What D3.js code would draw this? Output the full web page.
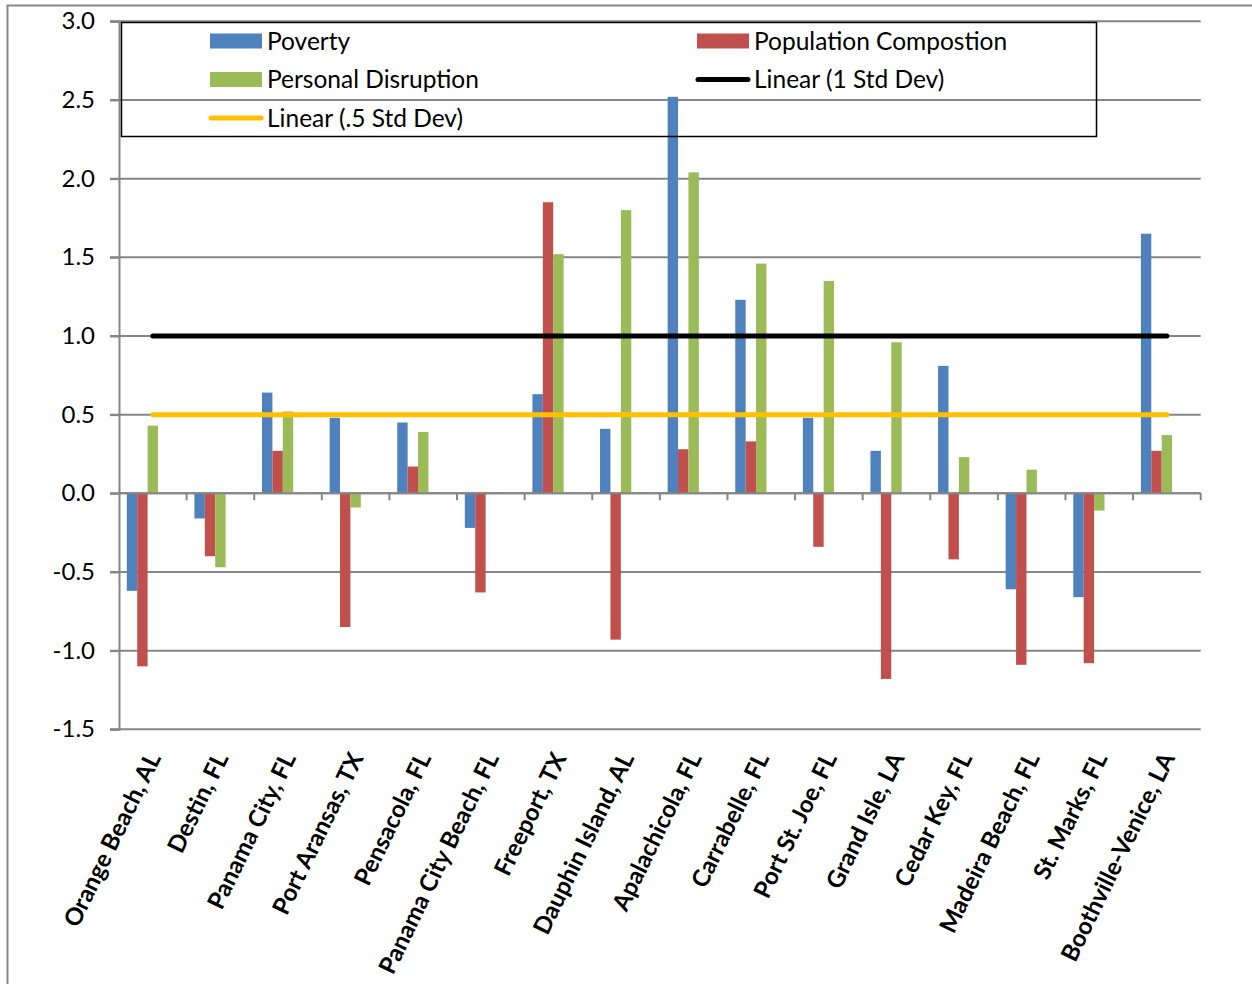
<!DOCTYPE html>
<html>
<head>
<meta charset="utf-8">
<script src="https://cdn.jsdelivr.net/npm/d3@7"></script>
<style>
  body { margin: 0; background: #fff; }
  svg { display: block; }
  text { font-family: Lato, "Open Sans", sans-serif; fill: #000; }
</style>
</head>
<body>
<div class="chart"></div>
<script>
// categories along the x axis
const places = ["Orange Beach, AL", "Destin, FL", "Panama City, FL", "Port Aransas, TX",
  "Pensacola, FL", "Panama City Beach, FL", "Freeport, TX", "Dauphin Island, AL",
  "Apalachicola, FL", "Carrabelle, FL", "Port St. Joe, FL", "Grand Isle, LA",
  "Cedar Key, FL", "Madeira Beach, FL", "St. Marks, FL", "Boothville-Venice, LA"];

// bar series
const poverty = [-0.62, -0.16, 0.64, 0.48, 0.45, -0.22, 0.63, 0.41, 2.52, 1.23, 0.48, 0.27, 0.81, -0.61, -0.66, 1.65];
const popComp = [-1.10, -0.40, 0.27, -0.85, 0.17, -0.63, 1.85, -0.93, 0.28, 0.33, -0.34, -1.18, -0.42, -1.09, -1.08, 0.27];
const disruption = [0.43, -0.47, 0.52, -0.09, 0.39, null, 1.52, 1.80, 2.04, 1.46, 1.35, 0.96, 0.23, 0.15, -0.11, 0.37];

// the two std dev series are only shown as their linear trend lines
const stdDev1 = 1.0;
const stdDevHalf = 0.5;

const yTicks = [-1.5, -1.0, -0.5, 0.0, 0.5, 1.0, 1.5, 2.0, 2.5, 3.0];

const seriesNames = ["Poverty", "Population Compostion", "Personal Disruption", "1 Std Dev", ".5 Std Dev"];
const seriesColors = ["#4F81BD", "#C0504D", "#9BBB59", "#000000", "#FFC000"];

const W = 1252, H = 984;
const svg = d3.select(".chart").append("svg")
    .attr("width", W)
    .attr("height", H);

// chart border
svg.append("rect")
    .attr("x", 7.5).attr("y", 5.5)
    .attr("width", 1300).attr("height", 1100)
    .attr("fill", "none")
    .attr("stroke", "#868686")
    .attr("stroke-width", 2);

const x0 = d3.scaleBand().domain(places).range([119, 1200.7]);
const x1 = d3.scaleBand().domain(seriesNames).range([0, x0.bandwidth()]).paddingOuter(0.75);
const y = d3.scaleLinear().domain([-1.5, 3.0]).range([729.3, 21.3]);

// gridlines
svg.append("g")
    .selectAll("line")
    .data(yTicks)
    .enter()
    .append("line")
    .attr("x1", 110).attr("x2", 1200.7)
    .attr("y1", d => y(d)).attr("y2", d => y(d))
    .attr("stroke", "#868686")
    .attr("stroke-width", 2);

// y axis
const fmt = d => d3.format(".1f")(d).replace("\u2212", "-");
const yAxis = svg.append("g")
    .attr("transform", "translate(119,0)")
    .call(d3.axisLeft(y).tickValues(yTicks).tickFormat(fmt).tickSize(9).tickPadding(15));
yAxis.select(".domain").attr("stroke", "#868686").attr("stroke-width", 2);
yAxis.selectAll(".tick line").attr("stroke", "#868686").attr("stroke-width", 2);
yAxis.selectAll("text")
    .style("font-family", "Lato, 'Open Sans', sans-serif")
    .style("font-size", "24px")
    .attr("fill", "#000");

// bars
const barSeries = [poverty, popComp, disruption];
barSeries.forEach((vals, si) => {
    svg.append("g")
        .selectAll("rect")
        .data(vals.map((v, i) => ({ place: places[i], v: v })).filter(d => d.v !== null))
        .enter()
        .append("rect")
        .attr("x", d => x0(d.place) + x1(seriesNames[si]))
        .attr("width", x1.bandwidth())
        .attr("y", d => y(Math.max(0, d.v)))
        .attr("height", d => Math.abs(y(d.v) - y(0)))
        .attr("fill", seriesColors[si]);
});

// category axis along zero
const xAxis = svg.append("g")
    .attr("transform", "translate(0," + y(0) + ")");
xAxis.append("line")
    .attr("x1", 119).attr("x2", 1200.7)
    .attr("stroke", "#868686")
    .attr("stroke-width", 2);
xAxis.selectAll(".tk")
    .data(places.slice(1).concat(["end"]))
    .enter()
    .append("line")
    .attr("class", "tk")
    .attr("x1", d => d === "end" ? 1200.7 : x0(d))
    .attr("x2", d => d === "end" ? 1200.7 : x0(d))
    .attr("y1", 0).attr("y2", 7)
    .attr("stroke", "#868686")
    .attr("stroke-width", 2);

// category labels
svg.append("g")
    .selectAll("text")
    .data(places)
    .enter()
    .append("text")
    .attr("transform", d => "translate(" + (x0(d) + x0.bandwidth() / 2 + 1) + ",754) rotate(-64)")
    .attr("text-anchor", "end")
    .attr("dy", "0.35em")
    .style("font-size", "24px")
    .style("font-weight", "bold")
    .text(d => d);

// linear trend lines of the std dev series
const trend = d3.line()
    .x(d => x0(d.place) + x0.bandwidth() / 2)
    .y(d => y(d.v));
[[stdDevHalf, 4], [stdDev1, 3]].forEach(([v, si]) => {
    svg.append("path")
        .datum([places[0], places[places.length - 1]].map(p => ({ place: p, v: v })))
        .attr("d", trend)
        .attr("fill", "none")
        .attr("stroke", seriesColors[si])
        .attr("stroke-width", 5)
        .attr("stroke-linecap", "round");
});

// legend (no fill, bars show through)
const legend = svg.append("g");
legend.append("rect")
    .attr("x", 121.5).attr("y", 22.5)
    .attr("width", 975).attr("height", 114)
    .attr("fill", "none")
    .attr("stroke", "#000")
    .attr("stroke-width", 1.5);

const legendItems = [
    { label: "Poverty", si: 0, kind: "bar", col: 0, row: 0 },
    { label: "Population Compostion", si: 1, kind: "bar", col: 1, row: 0 },
    { label: "Personal Disruption", si: 2, kind: "bar", col: 0, row: 1 },
    { label: "Linear (1 Std Dev)", si: 3, kind: "line", col: 1, row: 1 },
    { label: "Linear (.5 Std Dev)", si: 4, kind: "line", col: 0, row: 2 }
];
const colX = [210, 697];
const rowY = [41, 79.5, 118];
const li = legend.selectAll(".li")
    .data(legendItems)
    .enter()
    .append("g")
    .attr("transform", d => "translate(" + colX[d.col] + "," + rowY[d.row] + ")");
li.filter(d => d.kind === "bar")
    .append("rect")
    .attr("x", 0).attr("y", -7.5)
    .attr("width", 52).attr("height", 15)
    .attr("fill", d => seriesColors[d.si]);
li.filter(d => d.kind === "line")
    .append("line")
    .attr("x1", 1).attr("x2", 51)
    .attr("stroke", d => seriesColors[d.si])
    .attr("stroke-width", 5)
    .attr("stroke-linecap", "round");
li.append("text")
    .attr("x", 57)
    .attr("dy", "0.35em")
    .style("font-size", "24.5px")
    .text(d => d.label);
</script>
</body>
</html>
